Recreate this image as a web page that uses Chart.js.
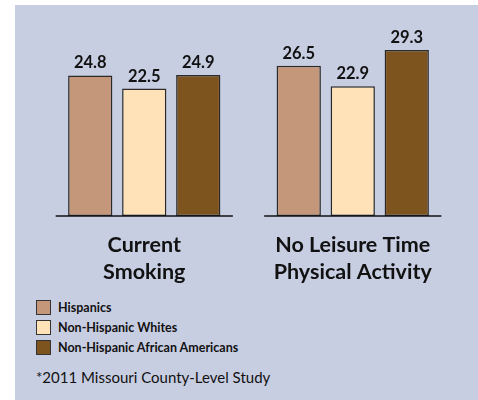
<!DOCTYPE html>
<html>
<head>
    <title>Missouri County-Level Study</title>
    <script src="https://cdn.jsdelivr.net/npm/chart.js"></script>
</head>
<body style="margin: 0; background-color: #ffffff; font-family: 'Lato', sans-serif;">
    <div id="panel" style="position: absolute; left: 15px; top: 5px; width: 463px; height: 395px; background-color: #c8cee2;">
        <div style="position: absolute; left: 0; top: 0; width: 463px; height: 290px;">
            <canvas id="myChart"></canvas>
        </div>
        <div id="legend" style="position: absolute; left: 21px; top: 292px;"></div>
        <div id="footnote" style="position: absolute; left: 21px; top: 363px; font-size: 15px; color: #111;"></div>
    </div>

    <script>
        // Data
        var categories = [['Current', 'Smoking'], ['No Leisure Time', 'Physical Activity']];
        var seriesNames = ['Hispanics', 'Non-Hispanic Whites', 'Non-Hispanic African Americans'];
        var hispanics = [24.8, 26.5];
        var whites = [22.5, 22.9];
        var africanAmericans = [24.9, 29.3];
        var footnote = '*2011 Missouri County-Level Study';

        var colors = ['#c4967a', '#ffe2b8', '#7d531e'];
        var seriesValues = [hispanics, whites, africanAmericans];

        var datasets = seriesNames.map(function (name, i) {
            return {
                label: name,
                data: seriesValues[i],
                backgroundColor: colors[i],
                borderColor: '#2a2a2a',
                borderWidth: 1.5,
                borderSkipped: false,
                categoryPercentage: 0.777,
                barPercentage: 0.82
            };
        });

        // value labels above bars + a baseline under each group
        var extras = {
            id: 'extras',
            afterDatasetsDraw: function (chart) {
                var ctx = chart.ctx;
                var xScale = chart.scales.x;
                var yScale = chart.scales.y;
                var catWidth = (chart.chartArea.right - chart.chartArea.left) / categories.length;

                ctx.save();
                ctx.strokeStyle = '#111';
                ctx.lineWidth = 1.5;
                categories.forEach(function (c, i) {
                    var cx = xScale.getPixelForValue(i);
                    var y0 = yScale.getPixelForValue(0);
                    ctx.beginPath();
                    ctx.moveTo(cx - catWidth * 0.425, y0);
                    ctx.lineTo(cx + catWidth * 0.425, y0);
                    ctx.stroke();
                });

                ctx.fillStyle = '#111';
                ctx.font = 'bold 16.5px Lato';
                ctx.textAlign = 'center';
                ctx.textBaseline = 'alphabetic';
                chart.data.datasets.forEach(function (ds, di) {
                    chart.getDatasetMeta(di).data.forEach(function (bar, i) {
                        ctx.fillText(ds.data[i].toFixed(1), bar.x, bar.y - 7);
                    });
                });
                ctx.restore();
            }
        };

        var ctx = document.getElementById('myChart').getContext('2d');
        var myChart = new Chart(ctx, {
            type: 'bar',
            data: {
                labels: categories,
                datasets: datasets
            },
            options: {
                responsive: true,
                maintainAspectRatio: false,
                animation: false,
                layout: {
                    padding: { left: 25, right: 21, top: 7, bottom: 0 }
                },
                scales: {
                    x: {
                        grid: { display: false, drawTicks: false },
                        border: { display: false },
                        ticks: {
                            color: '#111',
                            padding: 15,
                            font: { family: 'Lato', size: 21.5, weight: 'bold', lineHeight: 1.27 }
                        },
                        afterFit: function (scale) {
                            scale.height = 79;
                        }
                    },
                    y: {
                        display: false,
                        min: 0,
                        max: 36
                    }
                },
                plugins: {
                    legend: { display: false },
                    tooltip: { enabled: false }
                }
            },
            plugins: [extras]
        });

        // legend in html
        var legend = document.getElementById('legend');
        seriesNames.forEach(function (name, i) {
            var row = document.createElement('div');
            row.style.cssText = 'display: flex; align-items: center; height: 20px; font-size: 12.5px; font-weight: bold; color: #111;';
            var box = document.createElement('span');
            box.style.cssText = 'display: inline-block; width: 13px; height: 13px; border: 1px solid #333; margin-right: 7px; background-color: ' + colors[i] + ';';
            row.appendChild(box);
            row.appendChild(document.createTextNode(name));
            legend.appendChild(row);
        });

        document.getElementById('footnote').textContent = footnote;
    </script>
</body>
</html>
